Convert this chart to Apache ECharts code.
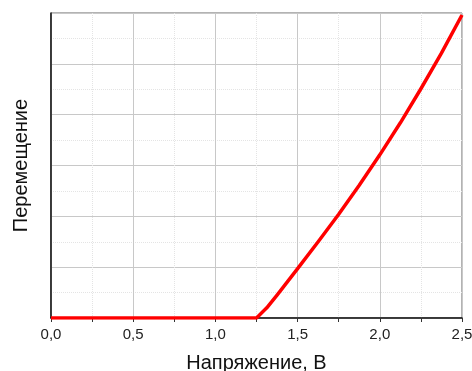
<!DOCTYPE html>
<html>
<head>
<meta charset="utf-8">
<script src="https://cdn.jsdelivr.net/npm/echarts@6/dist/echarts.min.js"></script>
<style>
  html, body { margin: 0; padding: 0; background: #fff; }
  #chart { width: 472px; height: 371px; }
</style>
</head>
<body>
<div id="chart"></div>
<script>
// voltage (V) and displacement (arbitrary units)
const voltage = [0, 0.5, 1.0, 1.25, 1.3125, 1.375, 1.5, 1.625, 1.75, 1.875, 2.0, 2.125, 2.25, 2.375, 2.5];
const displacement = [0, 0, 0, 0, 0.2, 0.45, 0.97, 1.5, 2.04, 2.61, 3.21, 3.84, 4.51, 5.21, 5.96];
const xTicks = [0, 0.5, 1.0, 1.5, 2.0, 2.5];

const chart = echarts.init(document.getElementById('chart'), null, { renderer: 'canvas' });

const fmt = v => v.toFixed(1).replace('.', ',');

chart.setOption({
  animation: false,
  grid: {
    left: 51, right: 10, top: 13, bottom: 53,
    outerBoundsMode: 'none',
    containLabel: false,
    show: true, borderColor: '#666', borderWidth: 1
  },
  xAxis: {
    type: 'value',
    min: xTicks[0], max: xTicks[xTicks.length - 1], interval: 0.5,
    name: 'Напряжение, В',
    nameLocation: 'middle',
    nameGap: 35,
    nameTextStyle: { fontFamily: 'Liberation Sans', fontSize: 20, color: '#111' },
    axisLine: { lineStyle: { color: '#111', width: 1.5 } },
    axisTick: { show: true, length: 4, lineStyle: { color: '#333' } },
    minorTick: { show: true, splitNumber: 2, length: 4, lineStyle: { color: '#333' } },
    axisLabel: {
      formatter: fmt, fontFamily: 'Liberation Sans', fontSize: 15, color: '#222', margin: 9
    },
    splitLine: { show: true, lineStyle: { color: '#c8c8c8', width: 1 } },
    minorSplitLine: { show: true, lineStyle: { color: '#e4e4e4', type: 'dotted', width: 1 } }
  },
  yAxis: {
    type: 'value',
    min: 0, max: 6, interval: 1,
    name: 'Перемещение',
    nameLocation: 'middle',
    nameGap: 20,
    nameTextStyle: { fontFamily: 'Liberation Sans', fontSize: 20, color: '#111' },
    axisLine: { show: true, lineStyle: { color: '#111', width: 1.5 } },
    axisTick: { show: false },
    axisLabel: { show: false },
    minorTick: { show: false, splitNumber: 2 },
    splitLine: { show: true, lineStyle: { color: '#c8c8c8', width: 1 } },
    minorSplitLine: { show: true, lineStyle: { color: '#e4e4e4', type: 'dotted', width: 1 } }
  },
  series: [{
    type: 'line',
    data: voltage.map((v, i) => [v, displacement[i]]),
    showSymbol: false,
    smooth: false,
    lineStyle: { color: '#ff0000', width: 3.5, join: 'round' },
    z: 5
  }]
});
</script>
</body>
</html>
